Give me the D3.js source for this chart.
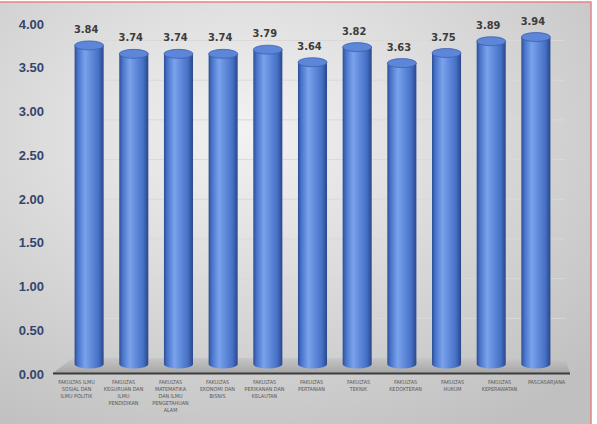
<!DOCTYPE html>
<html lang="id">
<head>
<meta charset="UTF-8">
<title>Nilai per Fakultas</title>
<style>
    body { margin: 0; background: #fff; }
    svg { display: block; }
    .ytick text { font-family: "Liberation Sans", Arial, sans-serif; font-weight: bold; font-size: 13px; fill: #34446e; }
    .val { font-family: "DejaVu Sans Condensed", "Arial Narrow", sans-serif; font-weight: bold; font-size: 11px; fill: #3c3c3c; }
    .cat { font-family: "DejaVu Sans Condensed", "Arial Narrow", sans-serif; font-size: 5.4px; fill: #5a5a5a; }
</style>
<script src="https://cdn.jsdelivr.net/npm/d3@7"></script>
</head>
<body>
<svg width="597" height="424"></svg>
<script>
// data
var faculties = [
    ["FAKULTAS ILMU", "SOSIAL DAN", "ILMU POLITIK"],
    ["FAKULTAS", "KEGURUAN DAN", "ILMU", "PENDIDIKAN"],
    ["FAKULTAS", "MATEMATIKA", "DAN ILMU", "PENGETAHUAN", "ALAM"],
    ["FAKULTAS", "EKONOMI DAN", "BISNIS"],
    ["FAKULTAS", "PERIKANAN DAN", "KELAUTAN"],
    ["FAKULTAS", "PERTANIAN"],
    ["FAKULTAS", "TEKNIK"],
    ["FAKULTAS", "KEDOKTERAN"],
    ["FAKULTAS", "HUKUM"],
    ["FAKULTAS", "KEPERAWATAN"],
    ["PASCASARJANA"]
];
var scores = [3.84, 3.74, 3.74, 3.74, 3.79, 3.64, 3.82, 3.63, 3.75, 3.89, 3.94];
var yTicks = [0, 0.5, 1, 1.5, 2, 2.5, 3, 3.5, 4];

var svg = d3.select("svg");
var defs = svg.append("defs");

// background
var bg = defs.append("radialGradient").attr("id", "bg")
    .attr("cx", "42%").attr("cy", "30%").attr("r", "80%");
bg.append("stop").attr("offset", "0%").attr("stop-color", "#f2f2f2");
bg.append("stop").attr("offset", "100%").attr("stop-color", "#c0c0c0");

var body = defs.append("linearGradient").attr("id", "cyl");
[["0%", "#2b4c92"], ["10%", "#4570c6"], ["36%", "#7ba3ec"], ["52%", "#6790df"], ["82%", "#4771c6"], ["100%", "#29478a"]]
    .forEach(function(s) { body.append("stop").attr("offset", s[0]).attr("stop-color", s[1]); });

var floorG = defs.append("linearGradient").attr("id", "floor")
    .attr("x1", 0).attr("y1", 0).attr("x2", 0).attr("y2", 1);
floorG.append("stop").attr("offset", "0%").attr("stop-color", "#c6c6c6");
floorG.append("stop").attr("offset", "100%").attr("stop-color", "#a6a6a6");

svg.append("rect").attr("x", -2).attr("y", 2).attr("width", 593).attr("height", 430)
    .attr("fill", "url(#bg)").attr("stroke", "#e28585").attr("stroke-width", 1.5);

// scales: back wall (grid), bars, front axis labels
var yGrid = d3.scaleLinear().domain([0, 4]).range([358, 40.5]);
var yBar = d3.scaleLinear().domain([0, 4]).range([368, 32]);
var yAxis = d3.scaleLinear().domain([0, 4]).range([374, 24]);

var idx = d3.range(scores.length);
var xBar = d3.scaleBand().domain(idx).range([67, 558]).paddingInner(0.35).paddingOuter(0.17);
var xLab = d3.scaleBand().domain(idx).range([53, 570]);

// gridlines
svg.append("g").selectAll("line")
    .data(yTicks.filter(function(d) { return d > 0; }))
    .join("line")
    .attr("x1", 73).attr("x2", 565)
    .attr("y1", function(d) { return yGrid(d); })
    .attr("y2", function(d) { return yGrid(d); })
    .attr("stroke", "#d9d9d9").attr("stroke-width", 1);

// floor
svg.append("path")
    .attr("d", "M73," + yGrid(0) + " L565," + yGrid(0) + " L570,373 L53,373 Z")
    .attr("fill", "url(#floor)");
svg.append("line").attr("x1", 53).attr("x2", 570).attr("y1", 373.5).attr("y2", 373.5)
    .attr("stroke", "#3c3c3c").attr("stroke-width", 2);

// y axis labels
var ax = svg.append("g").attr("class", "ytick").attr("transform", "translate(44,0)")
    .call(d3.axisLeft(yAxis).tickValues(yTicks).tickSize(0).tickPadding(0)
        .tickFormat(d3.format(".2f")));
ax.select(".domain").remove();

// cylinders
var w = xBar.bandwidth(), ry = 4.5;
var bars = svg.append("g").selectAll("g").data(scores).join("g")
    .attr("transform", function(d, i) { return "translate(" + xBar(i) + ",0)"; });

bars.append("path")
    .attr("d", function(d) {
        var t = yBar(d), b = yBar(0) - 4;
        return "M0," + t + " L0," + b + " A" + (w / 2) + "," + ry + " 0 0 0 " + w + "," + b +
            " L" + w + "," + t + " Z";
    })
    .attr("fill", "url(#cyl)");

bars.append("ellipse")
    .attr("cx", w / 2).attr("cy", function(d) { return yBar(d); })
    .attr("rx", w / 2).attr("ry", ry)
    .attr("fill", "#5d86d8").attr("stroke", "#3b61b0").attr("stroke-width", 0.8);

bars.append("text").attr("class", "val")
    .attr("x", w / 2 - 3)
    .attr("y", function(d) { return yBar(d) - ry - 8; })
    .attr("text-anchor", "middle")
    .text(function(d) { return d.toFixed(2); });

// category labels
var cats = svg.append("g").selectAll("text").data(faculties).join("text")
    .attr("class", "cat")
    .attr("text-anchor", "middle")
    .attr("transform", function(d, i) { return "translate(" + (xLab(i) + xLab.bandwidth() / 2) + ",384)"; });
cats.selectAll("tspan").data(function(d) { return d; }).join("tspan")
    .attr("x", 0)
    .attr("dy", function(d, j) { return j ? 7.1 : 0; })
    .text(function(d) { return d; });
</script>
</body>
</html>
